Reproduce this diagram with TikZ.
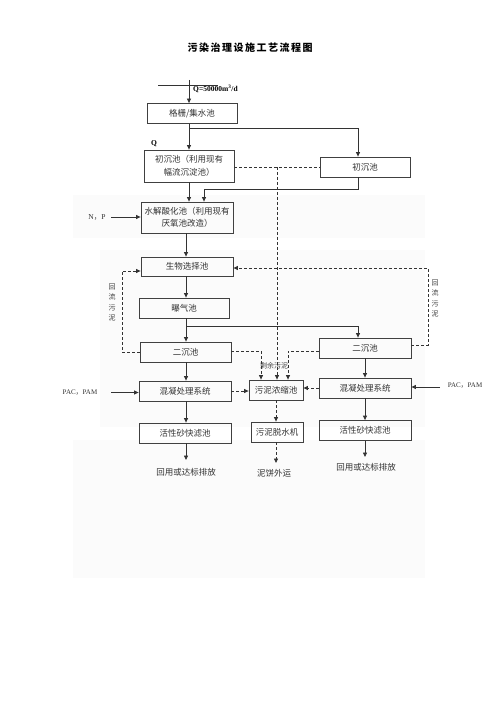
\documentclass[tikz,border=0pt]{standalone}
\usepackage{fontspec}
\setmainfont{Liberation Serif}
\newfontfamily\cjk{Noto Sans CJK SC}
\newfontfamily\cjktitle[LetterSpace=15]{Noto Sans CJK SC}
\usetikzlibrary{arrows.meta}
\begin{document}
\begin{tikzpicture}[x=1pt,y=-1pt,
  box/.style={draw=black!75,line width=0.8pt,minimum width=91pt,minimum height=20pt,inner sep=0pt,align=center,font=\cjk\fontsize{8.5}{12.5}\selectfont,text=black!80},
  lbl/.style={inner sep=0pt,font=\cjk\fontsize{8.5}{10}\selectfont,text=black!80},
  slbl/.style={inner sep=0pt,font=\cjk\fontsize{7}{10.5}\selectfont,text=black!75,align=center},
  qlbl/.style={inner sep=0pt,font=\rmfamily\bfseries\fontsize{7.5}{9}\selectfont},
  ln/.style={line width=0.8pt,draw=black!80},
  arr/.style={ln,-{Triangle[length=4.5pt,width=4pt]}},
  dl/.style={ln,dash pattern=on 3pt off 2pt},
  darr/.style={dl,-{Triangle[length=4.5pt,width=4pt]}},
]
\useasboundingbox (0,0) rectangle (500,708);
% faint scan shading
\fill[black!1.5] (73,195) rectangle (425,238);
\fill[black!1.5] (100,250) rectangle (425,427);
\fill[black!1.5] (73,440) rectangle (425,578);

% title
\node[inner sep=0pt,font=\cjktitle\bfseries\fontsize{10}{12}\selectfont] (title) at (250,48) {污染治理设施工艺流程图};

% boxes
\node[box,minimum width=90pt] (gs) at (192,113.5) {格栅/集水池};
\node[box,minimum width=90pt,minimum height=32pt] (cc1) at (189,166) {初沉池（利用现有\\幅流沉淀池）};
\node[box,minimum width=90pt] (cc2) at (365,167) {初沉池};
\node[box,minimum width=92pt,minimum height=31pt] (sj) at (187,217.5) {水解酸化池（利用现有\\厌氧池改造）};
\node[box,minimum width=92pt,minimum height=19pt] (sw) at (187,266.5) {生物选择池};
\node[box,minimum width=90pt] (bq) at (184,308) {曝气池};
\node[box] (ec1) at (185.5,352) {二沉池};
\node[box,minimum width=92pt] (ec2) at (365,348) {二沉池};
\node[box,minimum width=92pt] (hn1) at (185,391) {混凝处理系统};
\node[box,minimum width=54pt] (nn) at (276,390) {污泥浓缩池};
\node[box,minimum width=92pt] (hn2) at (365,388) {混凝处理系统};
\node[box,minimum width=92pt] (hs1) at (185,433) {活性砂快滤池};
\node[box,minimum width=52pt] (ts) at (277,432) {污泥脱水机};
\node[box,minimum width=92pt] (hs2) at (365,430.5) {活性砂快滤池};

% outputs
\node[lbl] (o1) at (186,472) {回用或达标排放};
\node[lbl] (o2) at (274,473) {泥饼外运};
\node[lbl] (o3) at (366,467) {回用或达标排放};

% labels
\node[qlbl,anchor=west] (qin) at (193,88.5) {Q=50000m\textsuperscript{3}/d};
\node[qlbl] (q) at (154,144) {Q};
\node[lbl,font=\rmfamily\fontsize{7.5}{9}\selectfont] (np) at (97,217) {N{\cjk ，}P};
\node[lbl,font=\rmfamily\fontsize{7}{9}\selectfont] (pacL) at (80,393) {PAC{\cjk ，}PAM};
\node[lbl,font=\rmfamily\fontsize{7}{9}\selectfont] (pacR) at (465,386) {PAC{\cjk ，}PAM};
\node[slbl] (hlL) at (112,302.5) {回\\流\\污\\泥};
\node[slbl] (hlR) at (435,298.5) {回\\流\\污\\泥};
\node[slbl] (sy) at (274,366) {剩余污泥};

% coordinates
\coordinate (xa) at (189,0);
\coordinate (xr) at (358,0);
\coordinate (xc) at (186,0);
\coordinate (xd) at (365,0);
\coordinate (xm) at (276,0);
\coordinate (inL) at (158,85);
\coordinate (inR) at (218,85);
\coordinate (inT) at (189,80);
\coordinate (b1) at (189,128);
\coordinate (j1) at (204,189);
\coordinate (d1) at (277,167);
\coordinate (npa) at (111,217);
\coordinate (b2) at (186,326);
\coordinate (rl1) at (122,352);
\coordinate (rl2) at (122,271);
\coordinate (rr1) at (428,345);
\coordinate (rr2) at (428,268);
\coordinate (s1) at (261,351);
\coordinate (s2) at (288,351);
\coordinate (pa1) at (111,392.5);
\coordinate (pa2) at (440,387);
\coordinate (e1) at (186,460);
\coordinate (e2) at (276,463);
\coordinate (e3) at (365,457);

% main flow
\draw[ln] (inL) -- (inR);
\draw[arr] (inT) -- (inT |- gs.north);
\draw[arr] (gs.south -| xa) -- (cc1.north -| xa);
\draw[arr] (b1) -| (xr |- cc2.north);
\draw[arr] (cc1.south -| xa) -- (sj.north -| xa);
\draw[arr] (cc2.south -| xr) |- (j1) -- (j1 |- sj.north);
\draw[arr] (npa) -- (sj.west |- npa);
\draw[arr] (sj.south -| xc) -- (sw.north -| xc);
\draw[arr] (sw.south -| xc) -- (bq.north -| xc);
\draw[arr] (bq.south -| xc) -- (ec1.north -| xc);
\draw[arr] (b2) -| (xr |- ec2.north);
\draw[arr] (ec1.south -| xc) -- (hn1.north -| xc);
\draw[arr] (hn1.south -| xc) -- (hs1.north -| xc);
\draw[arr] (hs1.south -| xc) -- (e1);
\draw[arr] (ec2.south -| xd) -- (hn2.north -| xd);
\draw[arr] (hn2.south -| xd) -- (hs2.north -| xd);
\draw[arr] (hs2.south -| xd) -- (e3);
\draw[arr] (pa1) -- (hn1.west |- pa1);
\draw[arr] (pa2) -- (hn2.east |- pa2);

% sludge lines
\draw[dl] (cc1.east |- d1) -- (cc2.west |- d1);
\draw[darr] (d1) -- (d1 |- nn.north);
\draw[darr] (ec1.west |- rl1) -- (rl1) -- (rl2) -- (sw.west |- rl2);
\draw[darr] (ec2.east |- rr1) -- (rr1) -- (rr2) -- (sw.east |- rr2);
\draw[darr] (ec1.east |- s1) -| (s1 |- nn.north);
\draw[darr] (ec2.west |- s2) -| (s2 |- nn.north);
\draw[darr] (hn1.east) -- (nn.west |- hn1.east);
\draw[darr] (hn2.west) -- (nn.east |- hn2.west);
\draw[darr] (nn.south -| xm) -- (ts.north -| xm);
\draw[darr] (ts.south -| xm) -- (e2);
\end{tikzpicture}
\end{document}
